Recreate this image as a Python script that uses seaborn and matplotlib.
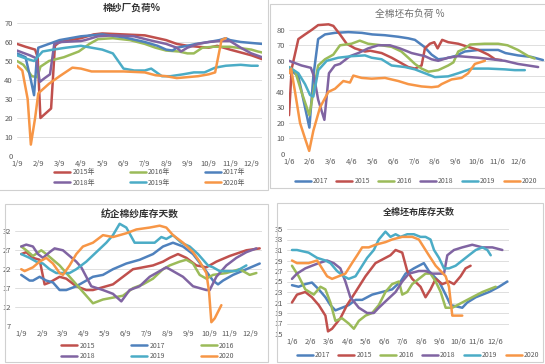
import numpy as np
import pandas as pd
import seaborn as sns
import matplotlib.pyplot as plt
from matplotlib.patches import Rectangle

sns.set_style("white")
plt.rcParams['font.family'] = ['Noto Sans CJK SC', 'DejaVu Sans']

# Office-style colours per year
colors = {'2015': '#C0504D', '2016': '#9BBB59', '2017': '#4F81BD',
          '2018': '#8064A2', '2019': '#4BACC6', '2020': '#F79646'}

# ---- panel 1: 棉纱厂负荷% (x = months after 1/9) ----
mill_2015 = [(0, 59), (0.4, 57.5), (0.85, 56), (0.97, 52), (1.1, 20), (1.6, 25), (1.78, 58), (2.0, 60), (3.0, 62),
             (3.6, 64), (4.0, 64.5), (5.0, 64), (6.0, 63.5), (7.0, 61), (7.5, 59), (8.0, 58), (9.0, 57), (9.4, 58),
             (10.0, 56), (11.0, 53), (11.5, 51)]
mill_2016 = [(0, 50), (0.3, 48), (0.7, 42), (0.95, 41.5), (1.1, 47), (1.5, 50), (2.2, 52), (2.9, 55), (3.4, 59),
             (3.8, 61.5), (4.5, 62), (5.3, 61), (6.0, 59), (6.5, 57), (7.0, 55.5), (7.6, 55), (8.0, 54), (8.3, 54),
             (8.7, 57), (9.2, 57.5), (10.0, 57.5), (11.0, 56), (11.3, 55), (11.5, 54.5)]
mill_2017 = [(0, 54), (0.4, 52), (0.65, 40), (0.8, 32), (0.92, 50), (1.0, 57), (1.5, 59), (2.0, 61), (3.0, 63),
             (4.0, 64), (5.0, 62.5), (6.0, 60), (6.6, 58), (7.0, 56), (7.3, 55.5), (7.5, 57), (8.0, 58), (8.4, 59),
             (9.0, 60), (9.5, 61), (9.8, 62), (10.0, 61), (10.5, 60), (11.5, 59)]
mill_2018 = [(0, 55.5), (0.6, 53), (0.9, 51.5), (1.07, 39), (1.3, 41), (1.55, 43), (1.75, 59), (2.1, 60), (3.0, 60.5),
             (3.2, 61), (3.8, 63), (4.5, 63.5), (5.5, 63), (6.2, 61), (7.0, 59), (7.5, 57), (7.7, 55), (8.0, 57),
             (8.5, 59), (9.0, 60), (9.5, 60.5), (10.0, 60.5), (10.5, 57), (11.0, 54), (11.5, 52)]
mill_2019 = [(0, 53), (0.5, 51), (0.8, 50), (1.2, 55), (1.7, 56), (2.3, 57), (3.0, 58), (3.5, 57), (4.0, 56),
             (4.5, 54), (5.0, 46), (5.5, 45), (6.0, 45), (6.3, 46), (6.8, 42), (7.2, 42), (7.8, 43), (8.3, 44),
             (8.8, 44), (9.3, 46.5), (9.8, 47.5), (10.5, 48), (11.0, 47.5), (11.3, 47.5)]
mill_2020 = [(0, 47.5), (0.25, 45), (0.5, 30), (0.65, 6), (0.85, 20), (1.0, 33), (1.5, 38), (2.0, 42), (2.6, 46.5),
             (3.0, 46), (3.5, 44.5), (5.0, 44.5), (6.0, 44), (6.5, 42.5), (7.0, 42), (7.5, 41), (8.0, 41.5),
             (8.5, 42), (9.0, 43), (9.3, 44), (9.6, 61), (9.8, 62)]

# ---- panel 2: 全棉坯布负荷 % (x = months after 1/6) ----
cloth_2017 = [(0, 55), (0.45, 50), (0.77, 30), (0.98, 17), (1.17, 50), (1.4, 74), (1.73, 77), (2.2, 78), (2.85, 78.5),
              (3.5, 78), (4.0, 77), (4.6, 76.5), (5.25, 75.5), (5.73, 74.5), (6.05, 73.5), (6.5, 69), (6.85, 64),
              (7.17, 61), (7.5, 61.5), (7.97, 63), (8.45, 66), (9.1, 67), (9.7, 67), (10.05, 67), (10.4, 65),
              (11.0, 63.5), (11.65, 62.5), (12.2, 60.5)]
cloth_2015 = [(0, 25), (0.13, 55), (0.45, 74), (0.77, 77), (1.1, 80), (1.4, 83), (1.9, 83.5), (2.13, 82.5),
              (2.45, 77), (2.77, 71), (3.17, 68), (3.65, 66), (3.9, 66.5), (4.45, 65), (4.93, 62), (5.33, 59),
              (5.73, 56), (6.05, 55), (6.37, 57), (6.53, 68), (6.77, 71), (6.98, 72), (7.14, 68), (7.36, 73.5),
              (7.65, 72), (8.13, 71), (8.6, 69), (9.1, 67), (9.57, 64), (9.9, 61), (10.2, 60.5)]
cloth_2016 = [(0, 56), (0.3, 53), (0.6, 40), (0.98, 25), (1.17, 40), (1.4, 57), (1.73, 61), (2.13, 64), (2.45, 70),
              (3.0, 71), (3.4, 73), (3.8, 71), (4.45, 70), (4.93, 69), (5.4, 66), (5.73, 62), (6.05, 58), (6.37, 55),
              (6.7, 53), (7.17, 54), (7.65, 57), (7.9, 59), (8.13, 66), (8.45, 68), (8.7, 70.5), (9.4, 71),
              (10.05, 71), (10.5, 70), (11.0, 67), (11.5, 63), (11.8, 61.5)]
cloth_2018 = [(0, 60), (0.6, 57), (1.05, 55.5), (1.2, 50), (1.4, 35), (1.7, 22), (1.92, 52), (2.2, 57), (2.45, 58),
              (2.93, 63), (3.33, 65), (3.8, 68), (4.29, 70), (4.85, 70), (5.33, 68), (5.89, 65), (6.53, 63),
              (6.85, 61), (7.17, 60), (7.65, 62), (8.13, 63), (9.09, 62), (9.73, 61), (10.37, 60), (11.0, 58),
              (11.97, 56)]
cloth_2019 = [(0, 56), (0.45, 52), (0.77, 45), (1.01, 38), (1.17, 37), (1.41, 54), (1.81, 60), (2.37, 62), (3.01, 63),
              (3.65, 63.5), (3.97, 62), (4.45, 61), (4.93, 57), (5.57, 56), (6.05, 54.5), (6.53, 52), (7.01, 49.5),
              (7.65, 50), (8.13, 52), (8.77, 55), (9.57, 55), (10.37, 54.5), (10.85, 54), (11.33, 54)]
cloth_2020 = [(0, 52), (0.1, 55), (0.29, 40), (0.53, 20), (0.77, 10), (0.97, 2), (1.17, 15), (1.49, 30), (1.89, 40),
              (2.21, 42), (2.61, 47), (2.93, 46), (3.09, 50.5), (3.49, 49), (3.97, 48.5), (4.61, 49), (5.25, 47),
              (5.73, 45), (6.37, 43.5), (6.85, 43), (7.17, 43.5), (7.33, 45), (7.81, 48), (8.29, 49), (8.61, 52),
              (8.93, 58), (9.41, 60)]

# ---- panel 3: 纺企棉纱库存天数 (x = months after 1/9) ----
yarn_2015 = [(0, 26), (0.24, 26.5), (0.56, 25), (0.88, 24.5), (1.12, 18), (1.36, 18.5), (1.52, 19), (1.84, 20),
             (2.16, 19.5), (2.64, 17.5), (3.12, 16.5), (3.44, 16.5), (4.08, 17.5), (4.4, 18), (4.88, 20), (5.36, 22),
             (5.84, 22.5), (6.32, 23), (6.8, 24), (7.12, 25), (7.52, 26), (7.92, 25), (8.4, 23), (8.88, 22.5),
             (9.36, 24), (10.0, 25.5), (10.8, 27), (11.44, 27.5)]
yarn_2017 = [(0, 20.5), (0.4, 19), (0.56, 19), (0.88, 20), (1.2, 19), (1.52, 18.5), (1.84, 16.5), (2.16, 16.5),
             (2.64, 17.5), (2.96, 18.5), (3.44, 20), (3.92, 20.5), (4.4, 22), (5.04, 23.5), (5.68, 24.5), (6.32, 26),
             (6.8, 28), (7.28, 29), (7.76, 28), (8.24, 26), (8.8, 22), (9.2, 19), (9.44, 18), (9.68, 19),
             (10.16, 20.5), (10.8, 22), (11.44, 23.5)]
yarn_2016 = [(0, 28), (0.24, 27), (0.56, 25.5), (0.96, 27), (1.2, 26), (1.52, 24.5), (1.84, 23), (2.16, 21),
             (2.64, 18), (3.12, 15), (3.44, 13), (3.92, 14), (4.4, 14.5), (4.88, 15), (5.36, 17), (5.84, 18),
             (6.32, 19.5), (6.8, 22), (7.12, 23), (7.6, 24), (7.92, 24.5), (8.24, 23.5), (8.56, 20.5), (8.88, 19.5),
             (9.2, 20.5), (9.84, 21), (10.48, 22), (10.96, 20.5), (11.28, 21)]
yarn_2018 = [(0, 28), (0.24, 28.5), (0.56, 28), (0.8, 26), (1.04, 25), (1.36, 26.5), (1.6, 27.5), (2.0, 27),
             (2.32, 25.5), (2.64, 24), (2.88, 22.5), (3.36, 17.5), (3.92, 16.5), (4.4, 15.5), (4.8, 13.5), (5.2, 16.5),
             (5.68, 17.5), (6.16, 20), (6.48, 21), (6.96, 22.5), (7.28, 21.5), (7.76, 20), (8.24, 17.5), (8.88, 16.5),
             (9.04, 16.5), (9.36, 20), (9.84, 23), (10.32, 25), (10.8, 26.5), (11.28, 27.5)]
yarn_2019 = [(0, 26), (0.4, 25), (0.72, 24), (1.04, 23.5), (1.36, 22), (1.68, 21), (2.16, 21), (2.32, 21), (2.64, 22),
             (3.12, 24), (3.6, 26.5), (4.08, 29), (4.4, 31), (4.72, 34), (5.04, 33), (5.44, 29), (6.0, 29), (6.4, 29),
             (6.72, 30.5), (6.96, 30), (7.28, 31), (7.68, 29), (8.08, 28), (8.48, 26), (8.96, 23), (9.2, 22.5),
             (9.52, 21.5), (10.0, 21.5), (10.32, 21.5), (10.64, 22.5), (10.8, 23)]
yarn_2020 = [(0, 22), (0.16, 21.5), (0.56, 22.5), (0.88, 24), (1.2, 25), (1.52, 23.5), (1.84, 21), (2.0, 20.5),
             (2.32, 23), (2.64, 26), (2.96, 28), (3.44, 29), (3.92, 31), (4.4, 30.5), (5.04, 31.5), (5.52, 32.5),
             (6.16, 33), (6.64, 33.5), (6.96, 33), (7.28, 31), (7.76, 29), (8.24, 26.5), (8.56, 24), (8.88, 21),
             (9.01, 16), (9.12, 8), (9.28, 9), (9.6, 12.5)]

# ---- panel 4: 全棉坯布库存天数 (x = months after 1/6) ----
stock_2017 = [(0, 24.3), (0.36, 24), (0.72, 24.5), (1.08, 24.8), (1.45, 23.5), (1.81, 22), (2.08, 20.5), (2.35, 19.5),
              (2.71, 20), (3.07, 20.5), (3.44, 21.5), (3.8, 21.5), (4.34, 22.5), (4.88, 23), (5.42, 23.5), (5.88, 25),
              (6.15, 26.5), (6.6, 27.5), (7.14, 28.5), (7.41, 27), (7.96, 25), (8.32, 22.5), (8.59, 20.5), (9.22, 20),
              (9.49, 21), (9.95, 22), (10.67, 23), (11.21, 24), (11.66, 25)]
stock_2015 = [(0, 21), (0.27, 22.5), (0.72, 23), (1.08, 22), (1.45, 20.5), (1.81, 18.5), (1.95, 15.5), (2.17, 16),
              (2.62, 18), (2.98, 20.5), (3.44, 23), (3.98, 26), (4.52, 28.5), (5.06, 29.5), (5.33, 30), (5.61, 31),
              (5.97, 30.5), (6.24, 27), (6.51, 25.5), (6.96, 24), (7.23, 22), (7.5, 23.5), (7.78, 25.5), (8.14, 24.5),
              (8.5, 25), (8.77, 24.5), (9.13, 26), (9.4, 27.5), (9.67, 28)]
stock_2016 = [(0, 28), (0.36, 26), (0.72, 23.5), (1.18, 22.5), (1.54, 24), (1.81, 23.5), (2.08, 21), (2.35, 17.5),
              (2.71, 18), (3.07, 17), (3.35, 16), (3.62, 17.5), (3.98, 18.5), (4.34, 19), (4.7, 20.5), (5.06, 23),
              (5.42, 24.5), (5.79, 25), (5.97, 22.5), (6.24, 23), (6.51, 24.5), (6.87, 25.5), (7.23, 26.5),
              (7.5, 26.5), (7.78, 25), (8.05, 23), (8.32, 20), (8.68, 20), (9.22, 21), (9.76, 22), (10.31, 23),
              (10.67, 23.5), (11.03, 24)]
stock_2018 = [(0, 25.5), (0.27, 26.5), (0.72, 27.5), (1.08, 28), (1.45, 28.5), (1.9, 29), (2.26, 28.5), (2.62, 27.5),
              (2.89, 25), (3.16, 22), (3.62, 20), (4.07, 19), (4.43, 19), (4.7, 20), (5.15, 21.5), (5.61, 23),
              (5.97, 25), (6.33, 26.5), (6.87, 27), (7.23, 27), (7.6, 26.5), (7.96, 26.5), (8.23, 26.5), (8.41, 30),
              (8.77, 31), (9.22, 31.5), (9.76, 32), (10.31, 31.5), (10.85, 31.5), (11.39, 31)]
stock_2019 = [(0, 31), (0.27, 31), (0.9, 30.5), (1.36, 29.5), (1.81, 29), (2.08, 28.5), (2.44, 27), (2.8, 26),
              (3.07, 25.5), (3.44, 26), (3.71, 27.5), (4.07, 29.5), (4.43, 31), (4.7, 33), (5.06, 34.5), (5.33, 33.5),
              (5.61, 34), (5.88, 33.5), (6.24, 34), (6.6, 34), (6.96, 33.5), (7.23, 33.5), (7.5, 33), (7.69, 31),
              (7.96, 29.5), (8.23, 27.5), (8.5, 27.5), (8.86, 28), (9.22, 29), (9.58, 30), (9.95, 31), (10.31, 31.5),
              (10.58, 31), (10.76, 30)]
stock_2020 = [(0, 29), (0.27, 28.5), (0.9, 28.5), (1.36, 29), (1.63, 27.5), (1.9, 26), (2.17, 25.5), (2.53, 26),
              (2.89, 26.5), (3.25, 28.5), (3.53, 30), (3.8, 31.5), (4.16, 31.5), (4.52, 32), (5.06, 32.5), (5.42, 33),
              (5.97, 33.5), (6.51, 33.5), (6.87, 33), (7.14, 31.5), (7.41, 30), (7.78, 28), (8.05, 27), (8.32, 26),
              (8.5, 24), (8.68, 18.5), (9.22, 18.5)]

labels_9 = ['%d/9' % i for i in range(1, 13)]
labels_6 = ['%d/6' % i for i in range(1, 13)]

W, H = 545, 364
fig = plt.figure(figsize=(W / 100, H / 100), dpi=100)


def px_axes(x0, y0, x1, y1):
    # axes from pixel box (top-left origin)
    return fig.add_axes([x0 / W, 1 - y1 / H, (x1 - x0) / W, (y1 - y0) / H])


def frame(x0, y0, x1, y1):
    fig.patches.append(Rectangle((x0 / W, 1 - y1 / H), (x1 - x0) / W, (y1 - y0) / H,
                                 transform=fig.transFigure, fill=False,
                                 edgecolor='#D0D0D0', lw=0.8))


def draw(ax, series, order, suffix, xlabels, xlim, ylim, yticks):
    rows = []
    for year in order:
        for m, v in series[year]:
            rows.append({'m': m, 'v': v, 'year': year + suffix})
    df = pd.DataFrame(rows)
    pal = {y + suffix: colors[y] for y in order}
    sns.lineplot(data=df, x='m', y='v', hue='year', hue_order=[y + suffix for y in order],
                 palette=pal, estimator=None, sort=False, lw=1.8, ax=ax)
    ax.set_xlim(*xlim)
    ax.set_ylim(*ylim)
    ax.set_xticks(range(12))
    ax.set_xticklabels(xlabels)
    ax.set_yticks(yticks)
    ax.tick_params(length=0, labelsize=5.5, colors='#595959', pad=3)
    ax.grid(axis='y', color='#D9D9D9', lw=0.6)
    ax.set_axisbelow(True)
    for s in ax.spines.values():
        s.set_visible(False)
    ax.set_xlabel('')
    ax.set_ylabel('')
    ax.get_legend().remove()
    return ax


def legend(ax, cx, cy, ncol, colsp):
    h, l = ax.get_legend_handles_labels()
    if ncol == 3:
        # matplotlib fills columns first; reorder so rows read left to right
        idx = [0, 3, 1, 4, 2, 5]
        h = [h[i] for i in idx]
        l = [l[i] for i in idx]
    ax.legend(h, l, loc='center', bbox_to_anchor=(cx / W, 1 - cy / H), bbox_transform=fig.transFigure,
              ncol=ncol, frameon=False, fontsize=5, handlelength=2.3, handletextpad=0.3,
              columnspacing=colsp, labelspacing=0.35, borderpad=0, labelcolor='#595959')


# frames
frame(-2, -2, 268, 190)
frame(270, 4, 547, 188)
frame(5, 204, 268, 362)
frame(277, 203, 543, 362)

# panel 1
ax1 = px_axes(17, 23, 262, 156)
draw(ax1, {'2015': mill_2015, '2016': mill_2016, '2017': mill_2017,
           '2018': mill_2018, '2019': mill_2019, '2020': mill_2020},
     ['2015', '2016', '2017', '2018', '2019', '2020'], '年', labels_9,
     (0, 11.5), (0, 70), range(0, 71, 10))
fig.text(132 / W, 1 - 8 / H, '棉纱厂负荷%', ha='center', va='center', fontsize=7, fontweight='bold', color='#333333')
legend(ax1, 150, 177.5, 3, 5.0)

# panel 2
ax2 = px_axes(289, 22, 545, 154)
draw(ax2, {'2017': cloth_2017, '2015': cloth_2015, '2016': cloth_2016,
           '2018': cloth_2018, '2019': cloth_2019, '2020': cloth_2020},
     ['2017', '2015', '2016', '2018', '2019', '2020'], '', labels_6,
     (0, 12.3), (0, 85), range(0, 81, 10))
fig.text(410 / W, 1 - 14 / H, '全棉坯布负荷 %', ha='center', va='center', fontsize=7, color='#707070')
legend(ax2, 416, 181, 6, 1.2)

# panel 3
ax3 = px_axes(15, 220, 262, 326)
draw(ax3, {'2015': yarn_2015, '2017': yarn_2017, '2016': yarn_2016,
           '2018': yarn_2018, '2019': yarn_2019, '2020': yarn_2020},
     ['2015', '2017', '2016', '2018', '2019', '2020'], '', labels_9,
     (-0.3, 11.55), (7, 35), range(7, 33, 5))
fig.text(140 / W, 1 - 214 / H, '纺企棉纱库存天数', ha='center', va='center', fontsize=7, fontweight='bold', color='#333333')
legend(ax3, 148, 351, 3, 5.2)

# panel 4
ax4 = px_axes(287, 229, 509, 334)
draw(ax4, {'2017': stock_2017, '2015': stock_2015, '2016': stock_2016,
           '2018': stock_2018, '2019': stock_2019, '2020': stock_2020},
     ['2017', '2015', '2016', '2018', '2019', '2020'], '', labels_6,
     (-0.27, 11.75), (15, 35), range(15, 36, 2))
fig.text(419 / W, 1 - 212 / H, '全棉坯布库存天数', ha='center', va='center', fontsize=6.5, fontweight='bold', color='#333333')
legend(ax4, 418, 355, 6, 1.2)

fig.savefig('out.png', dpi=100)
